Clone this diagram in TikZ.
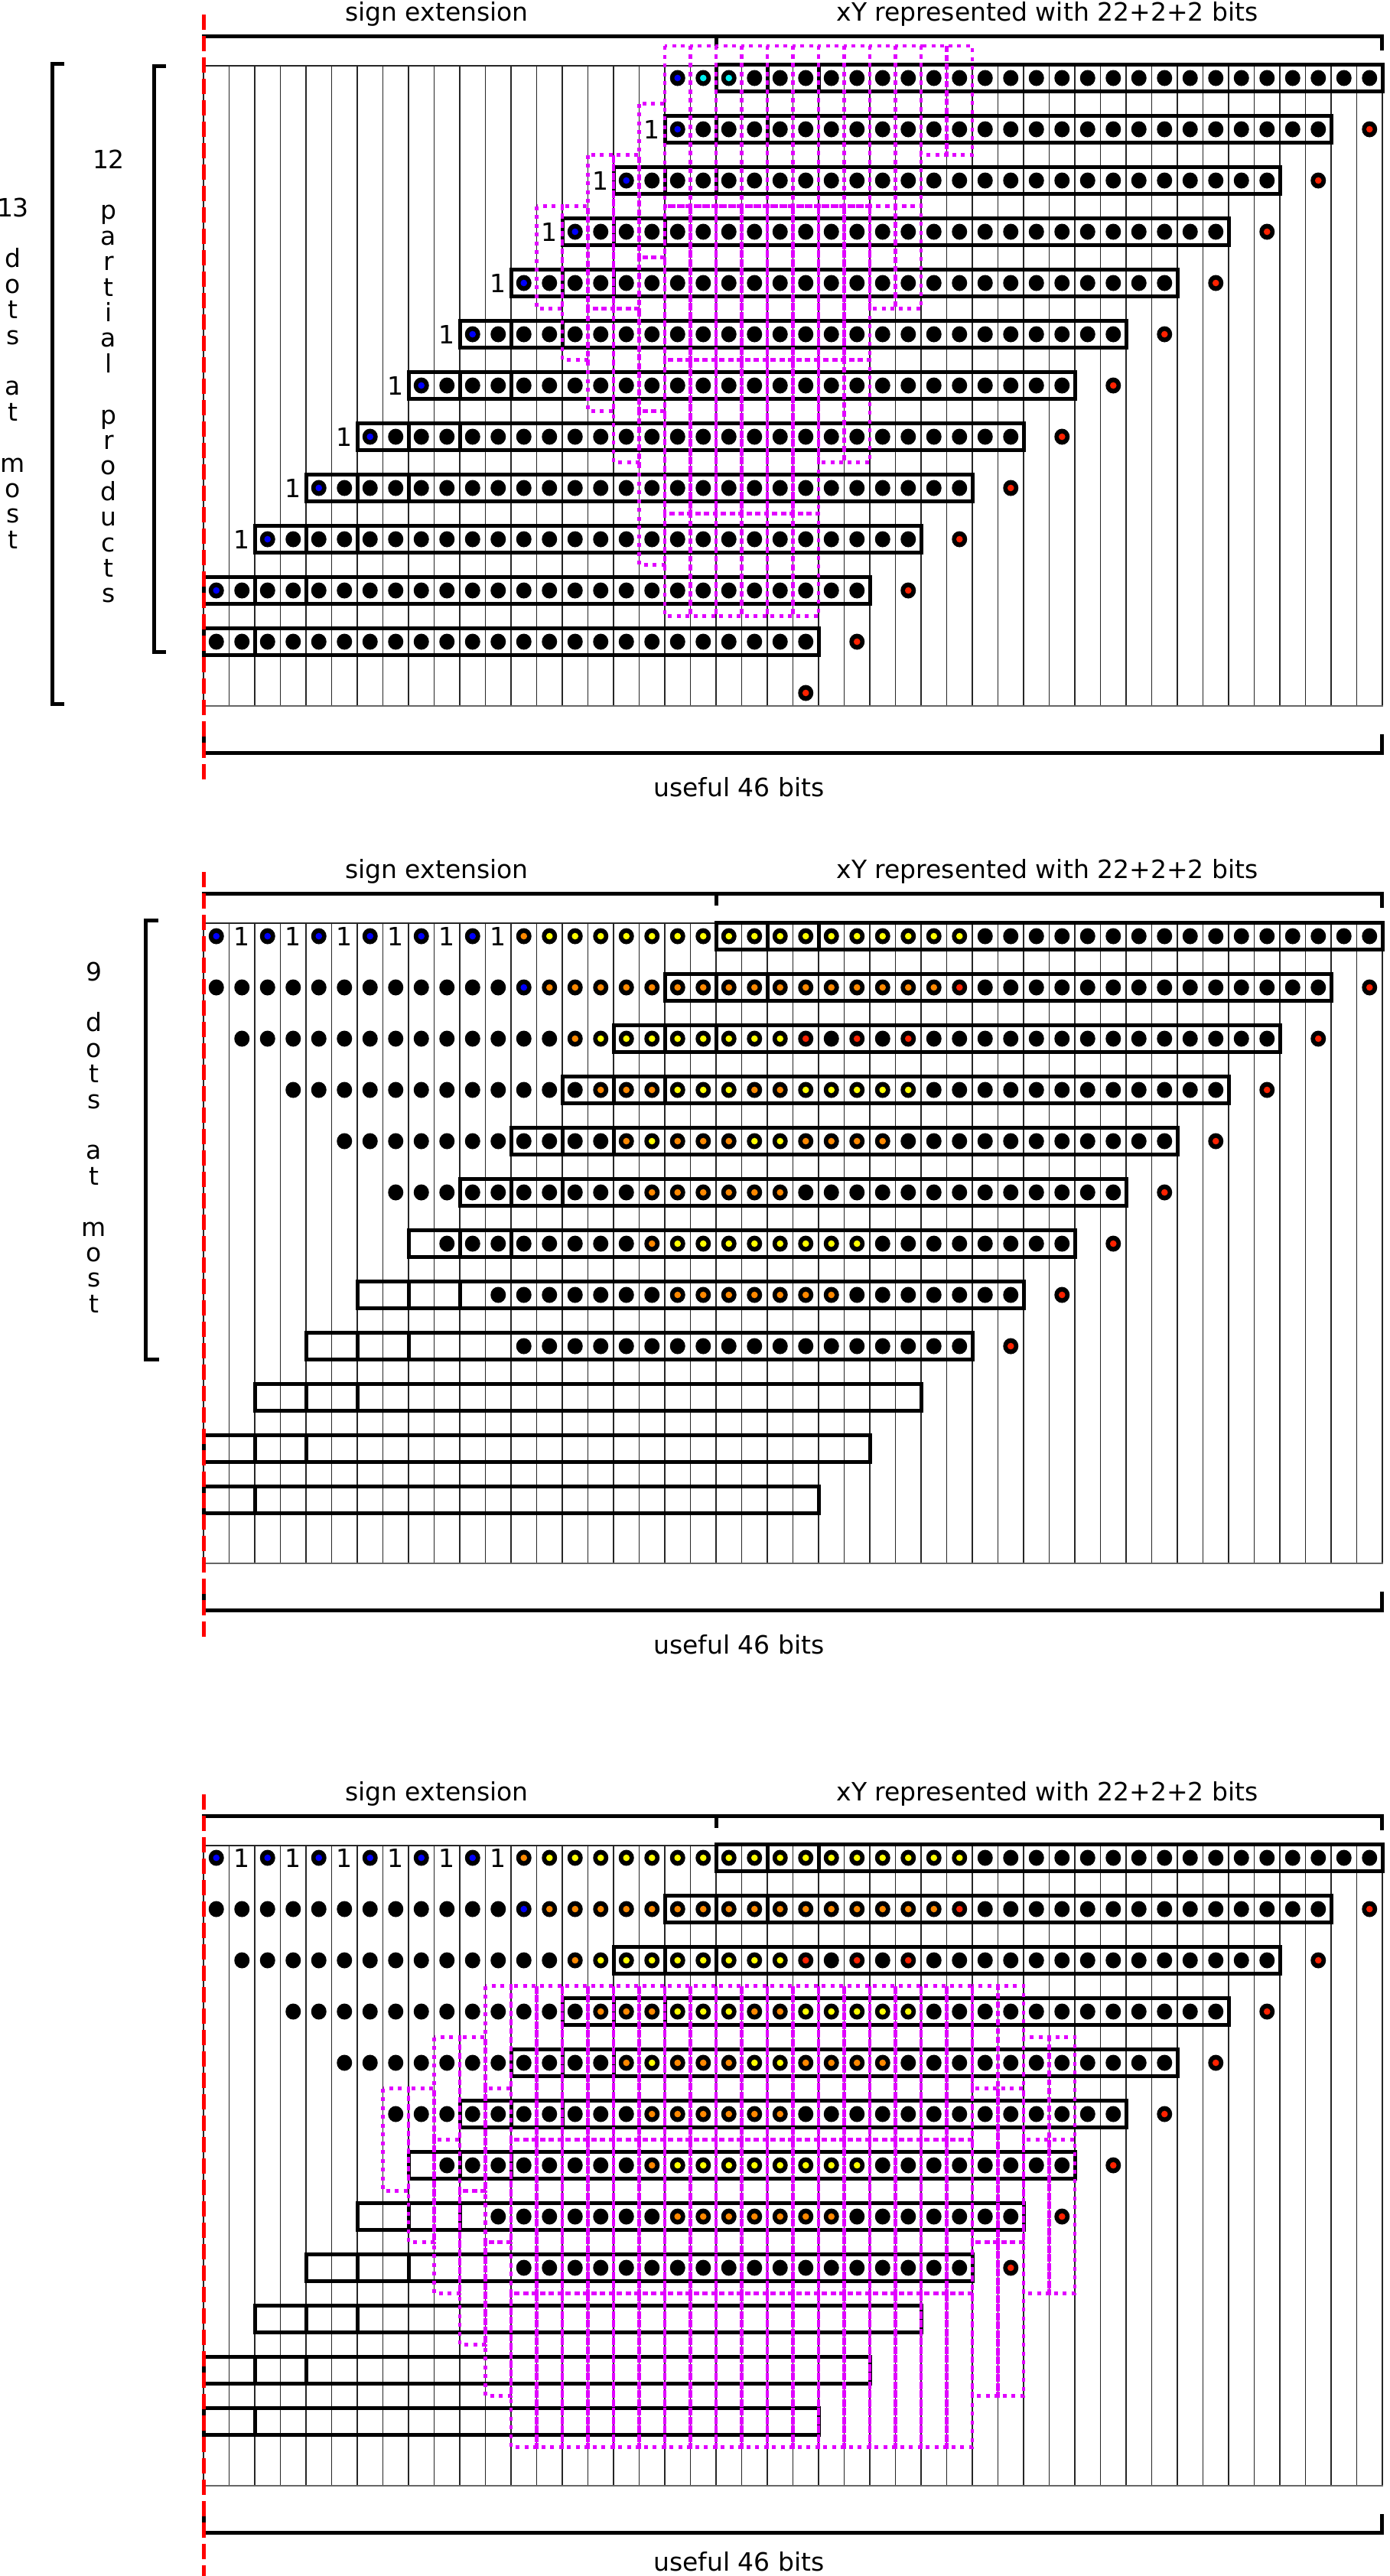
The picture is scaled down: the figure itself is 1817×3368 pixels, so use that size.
\documentclass[tikz,border=0pt]{standalone}
\usepackage{fontspec}
\setmainfont{DejaVu Sans}
\definecolor{mag}{RGB}{225,0,255}
\definecolor{dBlue}{RGB}{0,0,255}
\definecolor{dCyan}{RGB}{0,240,240}
\definecolor{dOrange}{RGB}{255,136,0}
\definecolor{dYellow}{RGB}{255,255,0}
\definecolor{dRed}{RGB}{255,34,0}
\tikzset{
  gridline/.style={line width=1.2pt, black!85},
  gridbottom/.style={line width=1.6pt, black!60},
  ppbox/.style={line width=5pt, black},
  comp/.style={line width=4.5pt, mag, dash pattern=on 5pt off 6.5pt},
  brk/.style={line width=5pt, black, line join=miter},
  redline/.style={line width=5pt, red, dash pattern=on 20pt off 8pt},
  lbl/.style={font=\fontsize{33}{40}\selectfont, inner sep=0pt},
  one/.style={font=\fontsize{33}{40}\selectfont, inner sep=0pt},
}
% dot: offset,row,col,inner colour
\newcommand\Dt[4]{%
  \fill[black] ({282.75+33.5*(#3)},{#1+102+67*(#2)}) ellipse (10 and 10.5);
  \fill[#4] ({282.75+33.5*(#3)},{#1+102+67*(#2)}) circle (4.3);}
\newcommand\Sg[5]{\foreach \kk in {#3,...,#4}{\Dt{#1}{#2}{\kk}{#5}}}
\newcommand\One[3]{\node[one] (one-#1-#2-#3) at ({282.75+33.5*(#3)},{#1+102+67*(#2)}) {1};}
% box: offset,row,from col,to col
\newcommand\Bx[4]{\draw[ppbox] ({266+33.5*(#3)},{#1+84.5+67*(#2)}) rectangle ({266+33.5*(#4)},{#1+119.5+67*(#2)});}
\newcommand\PP[3]{\Bx{#1}{#2}{#3}{#3+2}\Bx{#1}{#2}{#3+2}{#3+4}\Bx{#1}{#2}{#3+4}{#3+26}}
% compressor: offset,col,first row,last row
\newcommand\Mg[4]{%
  \ifnum#3=0 \def\mtop{60}\else\pgfmathsetmacro\mtop{68.5+67*#3}\fi
  \draw[comp] ({266+33.5*(#2)},{#1+\mtop}) rectangle ({266+33.5*(#2+1)},{#1+135.5+67*(#4)});}
\newcommand\MgR[5]{\foreach \mc in {#2,...,#3}{\Mg{#1}{\mc}{#4}{#5}}}
% grid + brackets + titles
\newcommand\Frame[2]{%
  \foreach \k in {0,...,46}{\draw[gridline] ({266+33.5*\k},{#1+86}) -- ({266+33.5*\k},{#1+923});}
  \draw[gridline] (266,{#1+86}) -- (1808,{#1+86});
  \draw[gridbottom] (266,{#1+923}) -- (1808,{#1+923});
  \draw[brk] (266,{#1+64}) -- (266,{#1+47.7}) -- (1806,{#1+47.7}) -- (1806,{#1+66});
  \draw[brk] (936,{#1+47.7}) -- (936,{#1+63});
  \draw[brk] (266,{#1+950}) -- (266,{#1+984}) -- (1806,{#1+984}) -- (1806,{#1+960});
  \node[lbl, anchor=base] (se-#1) at (571,{#1+27}) {sign extension};
  \node[lbl, anchor=base] (xy-#1) at (1369,{#1+27}) {xY represented with 22+2+2 bits};
  \node[lbl, anchor=base] (us-#1) at (966,{#1+#2}) {useful 46 bits};
}
% panels 2 and 3 content
\newcommand\Compressed[1]{%
  \foreach \r in {0,...,10}{\pgfmathtruncatemacro\aa{20-2*\r}\PP{#1}{\r}{\aa}}
  \Bx{#1}{11}{0}{2}\Bx{#1}{11}{2}{24}
  \foreach \k in {0,2,...,10}{\Dt{#1}{0}{\k}{dBlue}}
  \foreach \k in {1,3,...,11}{\One{#1}{0}{\k}}
  \Dt{#1}{0}{12}{dOrange}\Sg{#1}{0}{13}{29}{dYellow}\Sg{#1}{0}{30}{45}{black}
  \Sg{#1}{1}{0}{11}{black}\Dt{#1}{1}{12}{dBlue}\Sg{#1}{1}{13}{28}{dOrange}\Dt{#1}{1}{29}{dRed}\Sg{#1}{1}{30}{43}{black}\Dt{#1}{1}{45}{dRed}
  \Sg{#1}{2}{1}{13}{black}\Dt{#1}{2}{14}{dOrange}\Sg{#1}{2}{15}{22}{dYellow}\Dt{#1}{2}{23}{dRed}\Dt{#1}{2}{24}{black}\Dt{#1}{2}{25}{dRed}\Dt{#1}{2}{26}{black}\Dt{#1}{2}{27}{dRed}\Sg{#1}{2}{28}{41}{black}\Dt{#1}{2}{43}{dRed}
  \Sg{#1}{3}{3}{14}{black}\Sg{#1}{3}{15}{17}{dOrange}\Sg{#1}{3}{18}{20}{dYellow}\Sg{#1}{3}{21}{22}{dOrange}\Sg{#1}{3}{23}{27}{dYellow}\Sg{#1}{3}{28}{39}{black}\Dt{#1}{3}{41}{dRed}
  \Sg{#1}{4}{5}{15}{black}\Dt{#1}{4}{16}{dOrange}\Dt{#1}{4}{17}{dYellow}\Sg{#1}{4}{18}{20}{dOrange}\Sg{#1}{4}{21}{22}{dYellow}\Sg{#1}{4}{23}{26}{dOrange}\Sg{#1}{4}{27}{37}{black}\Dt{#1}{4}{39}{dRed}
  \Sg{#1}{5}{7}{16}{black}\Sg{#1}{5}{17}{22}{dOrange}\Sg{#1}{5}{23}{35}{black}\Dt{#1}{5}{37}{dRed}
  \Sg{#1}{6}{9}{16}{black}\Dt{#1}{6}{17}{dOrange}\Sg{#1}{6}{18}{25}{dYellow}\Sg{#1}{6}{26}{33}{black}\Dt{#1}{6}{35}{dRed}
  \Sg{#1}{7}{11}{17}{black}\Sg{#1}{7}{18}{24}{dOrange}\Sg{#1}{7}{25}{31}{black}\Dt{#1}{7}{33}{dRed}
  \Sg{#1}{8}{12}{29}{black}\Dt{#1}{8}{31}{dRed}
}
\begin{document}
\begin{tikzpicture}[x=1pt,y=-1pt]
\useasboundingbox (0,0) rectangle (1817,3368);
\fill[white] (0,0) rectangle (1817,3368);

% ================= panel 1 =================
\Frame{0}{1041}
\PP{0}{0}{20}
\Dt{0}{0}{18}{dBlue}\Sg{0}{0}{19}{20}{dCyan}\Sg{0}{0}{21}{45}{black}
\foreach \r in {1,...,10}{
  \pgfmathtruncatemacro\bb{20-2*\r}
  \pgfmathtruncatemacro\kf{21-2*\r}
  \pgfmathtruncatemacro\kl{45-2*\r}
  \pgfmathtruncatemacro\rd{47-2*\r}
  \pgfmathtruncatemacro\on{19-2*\r}
  \PP{0}{\r}{\bb}
  \Dt{0}{\r}{\bb}{dBlue}
  \Sg{0}{\r}{\kf}{\kl}{black}
  \Dt{0}{\r}{\rd}{dRed}
  \ifnum\on>-1 \One{0}{\r}{\on}\fi
}
\Bx{0}{11}{0}{2}\Bx{0}{11}{2}{24}
\Sg{0}{11}{0}{23}{black}\Dt{0}{11}{25}{dRed}
\Dt{0}{12}{23}{dRed}
% compressors panel 1
\MgR{0}{18}{27}{0}{2}
\MgR{0}{28}{29}{0}{1}
\Mg{0}{17}{1}{3}
\MgR{0}{15}{16}{2}{4}
\Mg{0}{13}{3}{4}
\Mg{0}{14}{3}{5}
\MgR{0}{18}{25}{3}{5}
\MgR{0}{26}{27}{3}{4}
\Mg{0}{17}{4}{6}
\Mg{0}{16}{5}{7}
\Mg{0}{15}{5}{6}
\Mg{0}{17}{7}{9}
\MgR{0}{18}{23}{6}{8}
\MgR{0}{24}{25}{6}{7}
\MgR{0}{18}{23}{9}{10}
% left labels panel 1
\draw[brk] (84,83) -- (68,83) -- (68,920) -- (84,920);
\draw[brk] (217,86) -- (201,86) -- (201,852) -- (217,852);
\foreach \i/\t in {0/13,2/d,3/o,4/t,5/s,7/a,8/t,10/m,11/o,12/s,13/t}{
  \node[lbl, anchor=base] (la-\i) at (17,{283+33.4*\i}) {\t};}
\foreach \i/\t in {0/12,2/p,3/a,4/r,5/t,6/i,7/a,8/l,10/p,11/r,12/o,13/d,14/u,15/c,16/t,17/s}{
  \node[lbl, anchor=base] (lb-\i) at (142,{220+33.4*\i}) {\t};}

% ================= panel 2 =================
\Frame{1121}{1041}
\Compressed{1122}
\draw[brk] (207,1203) -- (190,1203) -- (190,1777) -- (208,1777);
\foreach \i/\t in {0/9,2/d,3/o,4/t,5/s,7/a,8/t,10/m,11/o,12/s,13/t}{
  \node[lbl, anchor=base] (lc-\i) at (123,{1282+33.4*\i}) {\t};}

% ================= panel 3 =================
\Frame{2327}{1034}
\Compressed{2327}
\Mg{2327}{7}{5}{6}
\Mg{2327}{8}{5}{7}
\Mg{2327}{9}{4}{5}\Mg{2327}{9}{6}{8}
\Mg{2327}{10}{4}{6}\Mg{2327}{10}{7}{9}
\Mg{2327}{11}{3}{4}\Mg{2327}{11}{5}{7}\Mg{2327}{11}{8}{10}
\MgR{2327}{12}{29}{3}{5}
\MgR{2327}{12}{29}{6}{8}
\MgR{2327}{12}{29}{9}{11}
\MgR{2327}{30}{31}{3}{4}
\MgR{2327}{30}{31}{5}{7}
\MgR{2327}{30}{31}{8}{10}
\MgR{2327}{32}{33}{4}{5}
\MgR{2327}{32}{33}{6}{8}

% red dashed lines
\draw[redline] (266,19) -- (266,1022);
\draw[redline] (266,1140) -- (266,2143);
\draw[redline] (266,2346) -- (266,3368);
\end{tikzpicture}
\end{document}
